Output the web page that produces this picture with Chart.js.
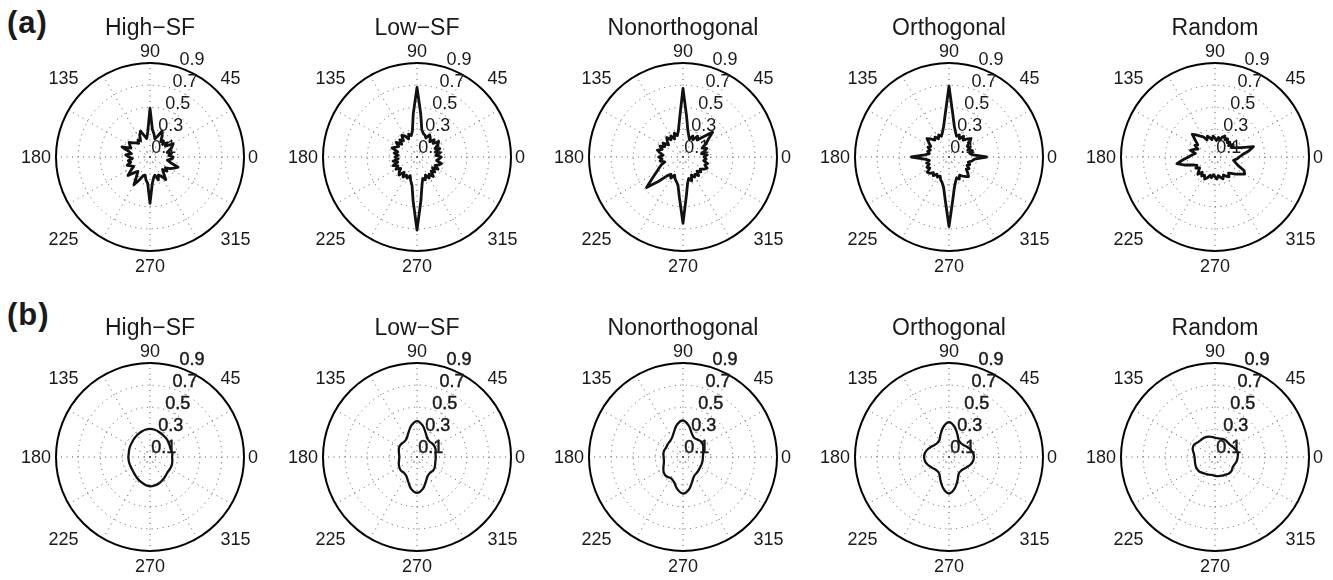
<!DOCTYPE html>
<html>
<head>
<meta charset="utf-8">
<script src="https://cdn.jsdelivr.net/npm/chart.js@4.4.1/dist/chart.umd.min.js"></script>
<style>
  html, body { margin: 0; padding: 0; background: #fff; overflow: hidden; width: 1333px; height: 580px; }
  #fig { position: relative; width: 1333px; height: 580px; }
  #fig canvas { position: absolute; }
  .tag { position: absolute; font: bold 31px "Liberation Sans", Arial, sans-serif; line-height: 1; letter-spacing: 1px; color: #1a1a1a; }
</style>
</head>
<body>
<div id="fig">
  <div class="tag" style="left:7px; top:7px;">(a)</div>
  <div class="tag" style="left:7px; top:299px;">(b)</div>
</div>
<script>
// Orientation angles (degrees, counter-clockwise from 0 = right)
const ANG_A = [
  0, 5, 10, 15, 20, 25, 30, 35, 40, 45,
  50, 55, 60, 65, 70, 75, 80, 85, 90, 95,
  100, 105, 110, 115, 120, 125, 130, 135, 140, 145,
  150, 155, 160, 165, 170, 175, 180, 185, 190, 195,
  200, 205, 210, 215, 220, 225, 230, 235, 240, 245,
  250, 255, 260, 265, 270, 275, 280, 285, 290, 295,
  300, 305, 310, 315, 320, 325, 330, 335, 340, 345,
  350, 355
];
const ANG_B = [
  0, 10, 20, 30, 40, 50, 60, 70, 80, 90,
  100, 110, 120, 130, 140, 150, 160, 170, 180, 190,
  200, 210, 220, 230, 240, 250, 260, 270, 280, 290,
  300, 310, 320, 330, 340, 350
];

// Row (a): raw orientation responses
const HIGH_SF_A = [
  0.26, 0.22, 0.25, 0.21, 0.24, 0.27, 0.29, 0.22, 0.25, 0.21,
  0.24, 0.22, 0.27, 0.31, 0.25, 0.22, 0.26, 0.30, 0.49, 0.28,
  0.22, 0.25, 0.30, 0.27, 0.22, 0.24, 0.21, 0.23, 0.25, 0.28,
  0.26, 0.24, 0.32, 0.25, 0.22, 0.27, 0.24, 0.21, 0.25, 0.23,
  0.27, 0.24, 0.22, 0.26, 0.31, 0.25, 0.22, 0.26, 0.34, 0.28,
  0.23, 0.22, 0.26, 0.29, 0.47, 0.29, 0.24, 0.22, 0.27, 0.23,
  0.25, 0.30, 0.24, 0.21, 0.25, 0.22, 0.26, 0.29, 0.32, 0.24,
  0.21, 0.25
];
const LOW_SF_A = [
  0.27, 0.22, 0.26, 0.22, 0.27, 0.23, 0.26, 0.29, 0.24, 0.27,
  0.23, 0.26, 0.28, 0.24, 0.26, 0.27, 0.30, 0.44, 0.68, 0.44,
  0.29, 0.25, 0.27, 0.23, 0.27, 0.29, 0.24, 0.27, 0.23, 0.28,
  0.24, 0.26, 0.29, 0.23, 0.26, 0.22, 0.25, 0.22, 0.27, 0.23,
  0.28, 0.24, 0.27, 0.23, 0.26, 0.28, 0.23, 0.27, 0.24, 0.26,
  0.23, 0.27, 0.31, 0.45, 0.71, 0.45, 0.31, 0.25, 0.27, 0.23,
  0.27, 0.24, 0.28, 0.23, 0.26, 0.22, 0.27, 0.23, 0.26, 0.28,
  0.23, 0.25
];
const NONORTH_A = [
  0.24, 0.27, 0.22, 0.25, 0.28, 0.24, 0.29, 0.33, 0.40, 0.31,
  0.25, 0.28, 0.23, 0.26, 0.22, 0.25, 0.30, 0.42, 0.67, 0.40,
  0.29, 0.25, 0.28, 0.23, 0.27, 0.24, 0.28, 0.25, 0.22, 0.27,
  0.24, 0.28, 0.25, 0.29, 0.26, 0.23, 0.27, 0.24, 0.26, 0.22,
  0.26, 0.29, 0.33, 0.39, 0.48, 0.36, 0.27, 0.24, 0.27, 0.23,
  0.26, 0.28, 0.31, 0.42, 0.65, 0.40, 0.29, 0.25, 0.28, 0.23,
  0.26, 0.24, 0.27, 0.23, 0.26, 0.24, 0.27, 0.29, 0.26, 0.28,
  0.24, 0.26
];
const ORTH_A = [
  0.39, 0.27, 0.24, 0.27, 0.23, 0.26, 0.24, 0.27, 0.31, 0.28,
  0.25, 0.28, 0.24, 0.27, 0.25, 0.28, 0.33, 0.44, 0.69, 0.44,
  0.33, 0.28, 0.25, 0.27, 0.24, 0.27, 0.25, 0.28, 0.31, 0.27,
  0.24, 0.26, 0.23, 0.25, 0.23, 0.27, 0.39, 0.27, 0.23, 0.26,
  0.24, 0.27, 0.25, 0.29, 0.28, 0.25, 0.27, 0.24, 0.26, 0.24,
  0.27, 0.29, 0.33, 0.44, 0.68, 0.44, 0.33, 0.28, 0.25, 0.27,
  0.24, 0.26, 0.28, 0.30, 0.27, 0.24, 0.26, 0.23, 0.25, 0.23,
  0.26, 0.28
];
const RANDOM_A = [
  0.27, 0.30, 0.36, 0.41, 0.30, 0.25, 0.22, 0.25, 0.21, 0.24,
  0.22, 0.25, 0.23, 0.26, 0.24, 0.21, 0.23, 0.20, 0.22, 0.24,
  0.21, 0.23, 0.25, 0.22, 0.26, 0.28, 0.31, 0.34, 0.28, 0.24,
  0.26, 0.22, 0.25, 0.28, 0.23, 0.26, 0.29, 0.34, 0.40, 0.33,
  0.26, 0.23, 0.25, 0.22, 0.24, 0.27, 0.23, 0.26, 0.24, 0.27,
  0.25, 0.22, 0.24, 0.21, 0.23, 0.25, 0.22, 0.24, 0.26, 0.23,
  0.25, 0.27, 0.24, 0.26, 0.29, 0.32, 0.36, 0.34, 0.27, 0.24,
  0.22, 0.25
];

// Row (b): smoothed orientation responses
const HIGH_SF_B = [
  0.25, 0.255, 0.25, 0.255, 0.265, 0.275, 0.28, 0.29, 0.30, 0.305,
  0.30, 0.29, 0.28, 0.27, 0.26, 0.255, 0.25, 0.245, 0.245, 0.245,
  0.245, 0.245, 0.25, 0.26, 0.275, 0.29, 0.305, 0.315, 0.31, 0.30,
  0.285, 0.27, 0.26, 0.26, 0.26, 0.255
];
const LOW_SF_B = [
  0.22, 0.22, 0.23, 0.235, 0.235, 0.23, 0.24, 0.28, 0.34, 0.375,
  0.34, 0.28, 0.24, 0.23, 0.235, 0.235, 0.225, 0.215, 0.21, 0.215,
  0.225, 0.235, 0.24, 0.235, 0.245, 0.285, 0.345, 0.375, 0.345, 0.285,
  0.245, 0.235, 0.24, 0.235, 0.225, 0.22
];
const NONORTH_B = [
  0.23, 0.235, 0.245, 0.26, 0.265, 0.255, 0.25, 0.28, 0.34, 0.38,
  0.35, 0.29, 0.25, 0.235, 0.23, 0.225, 0.23, 0.23, 0.225, 0.225,
  0.235, 0.255, 0.275, 0.28, 0.27, 0.29, 0.345, 0.38, 0.35, 0.29,
  0.25, 0.24, 0.235, 0.23, 0.23, 0.23
];
const ORTH_B = [
  0.275, 0.27, 0.255, 0.235, 0.22, 0.215, 0.225, 0.27, 0.33, 0.365,
  0.33, 0.27, 0.225, 0.215, 0.22, 0.235, 0.255, 0.27, 0.275, 0.27,
  0.255, 0.235, 0.22, 0.215, 0.225, 0.275, 0.34, 0.38, 0.34, 0.275,
  0.225, 0.215, 0.22, 0.235, 0.255, 0.27
];
const RANDOM_B = [
  0.255, 0.26, 0.25, 0.235, 0.225, 0.225, 0.23, 0.225, 0.22, 0.225,
  0.235, 0.245, 0.25, 0.25, 0.255, 0.27, 0.265, 0.245, 0.235, 0.235,
  0.24, 0.245, 0.245, 0.235, 0.225, 0.22, 0.215, 0.22, 0.225, 0.23,
  0.235, 0.245, 0.245, 0.235, 0.24, 0.25
];

const PANEL_TITLES = ['High\u2212SF', 'Low\u2212SF', 'Nonorthogonal', 'Orthogonal', 'Random'];
const RING_TICKS = [0.1, 0.3, 0.5, 0.7, 0.9];
const ANGLE_TICKS = [0, 45, 90, 135, 180, 225, 270, 315];
const R_MIN = 0.05;
const R_MAX = 0.9;
const SPOKE_EVERY = 30;

const FONT = '"Liberation Sans", Arial, sans-serif';

// Radar charts run clockwise from the start angle; polar plots run counter-clockwise.
function ccwOrder(arr) {
  return arr.map((_, i) => arr[(arr.length - i) % arr.length]);
}

// Angle labels, ring labels and panel title
const polarText = {
  id: 'polarText',
  afterDraw(chart, args, opts) {
    const s = chart.scales.r;
    const ctx = chart.ctx;
    const cx = s.xCenter, cy = s.yCenter, R = s.drawingArea;
    const size = 18, cap = size * 0.716;
    ctx.save();
    ctx.fillStyle = '#1a1a1a';
    ctx.textBaseline = 'alphabetic';
    ctx.font = size + 'px ' + FONT;
    ANGLE_TICKS.forEach(a => {
      const t = a * Math.PI / 180, c = Math.cos(t), sn = Math.sin(t);
      const ax = cx + R * c, ay = cy - R * sn;
      let x = ax, y;
      if (c > 0.3) { ctx.textAlign = 'left'; x = ax + 4; }
      else if (c < -0.3) { ctx.textAlign = 'right'; x = ax - 5; }
      else { ctx.textAlign = 'center'; }
      if (sn > 0.3) y = ay - 6.5;
      else if (sn < -0.3) y = ay + 8.5 + cap;
      else y = ay + cap / 2;
      ctx.fillText(String(a), x, y);
    });
    ctx.textAlign = 'left';
    RING_TICKS.forEach(v => {
      const d = s.getDistanceFromCenterForValue(v);
      const x = cx + 0.32 * d - 0.6;
      const y = cy - (0.994 * d + 4.6) + cap / 2;
      if (opts.heavy) {
        ctx.lineWidth = 0.45;
        ctx.strokeStyle = '#111';
        ctx.strokeText(String(v), x, y);
      }
      ctx.fillText(String(v), x, y);
    });
    ctx.font = '23px ' + FONT;
    ctx.textAlign = 'center';
    ctx.fillText(opts.title, cx, cy - 122);
    ctx.restore();
  }
};

const ROWS = [
  { top: 0,   angles: ANG_A, series: [HIGH_SF_A, LOW_SF_A, NONORTH_A, ORTH_A, RANDOM_A], width: 2.8, tension: 0,   heavy: false },
  { top: 300, angles: ANG_B, series: [HIGH_SF_B, LOW_SF_B, NONORTH_B, ORTH_B, RANDOM_B], width: 2.3, tension: 0.4, heavy: true }
];
const PANEL_LEFT = [17, 284, 550, 816, 1082];

const fig = document.getElementById('fig');
const isOuter = c => c.tick && Math.abs(c.tick.value - R_MAX) < 1e-9;

ROWS.forEach(row => {
  row.series.forEach((vals, p) => {
    const cv = document.createElement('canvas');
    cv.width = 266; cv.height = 290;
    cv.style.left = PANEL_LEFT[p] + 'px';
    cv.style.top = row.top + 'px';
    cv.style.width = '266px'; cv.style.height = '290px';
    fig.appendChild(cv);

    new Chart(cv, {
      type: 'radar',
      data: {
        labels: ccwOrder(row.angles),
        datasets: [{
          data: ccwOrder(vals),
          borderColor: '#111',
          borderWidth: row.width,
          borderJoinStyle: 'round',
          pointRadius: 0,
          pointHoverRadius: 0,
          fill: false,
          tension: row.tension
        }]
      },
      options: {
        responsive: false,
        animation: false,
        devicePixelRatio: 1,
        events: [],
        layout: { padding: { left: 39, right: 39, top: 63, bottom: 39 } },
        plugins: {
          legend: { display: false },
          tooltip: { enabled: false },
          polarText: { title: PANEL_TITLES[p], heavy: row.heavy }
        },
        scales: {
          r: {
            min: R_MIN,
            max: R_MAX,
            startAngle: 90,
            afterBuildTicks: s => { s.ticks = [R_MIN].concat(RING_TICKS).map(v => ({ value: v })); },
            ticks: { display: false },
            pointLabels: { display: false },
            grid: {
              circular: true,
              color: c => isOuter(c) ? '#000' : '#555',
              lineWidth: c => isOuter(c) ? 2 : 1
            },
            border: {
              dash: c => isOuter(c) ? [] : [1, 4.5]
            },
            angleLines: {
              display: true,
              color: '#555',
              lineWidth: c => (Number(c.label) % SPOKE_EVERY === 0) ? 1 : 0,
              borderDash: [1, 4.5]
            }
          }
        }
      },
      plugins: [polarText]
    });
  });
});
</script>
</body>
</html>
